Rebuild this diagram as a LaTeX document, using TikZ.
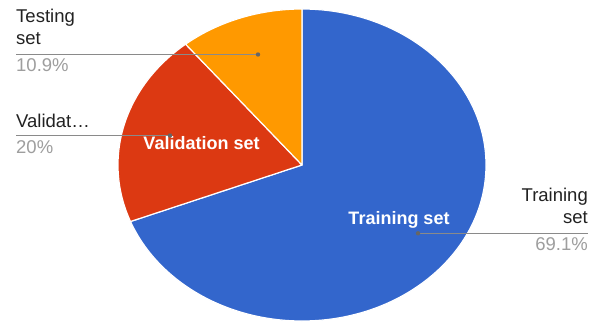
\documentclass[tikz,border=0pt]{standalone}
\usepackage{fontspec}
\setmainfont{Liberation Sans}
\definecolor{trainblue}{HTML}{3366CC}
\definecolor{valred}{HTML}{DC3912}
\definecolor{testorange}{HTML}{FF9900}
\definecolor{labeltext}{HTML}{222222}
\definecolor{pcttext}{HTML}{9E9E9E}
\definecolor{leader}{HTML}{8A8A8A}
\definecolor{leaderdot}{HTML}{666666}
\tikzset{
  slice/.style={draw=white, line width=1.2pt, line join=round},
  lbl/.style={inner sep=0pt, text=labeltext, font=\fontsize{18.5}{22}\selectfont},
  pct/.style={inner sep=0pt, text=pcttext, font=\fontsize{18.5}{22}\selectfont},
  inlbl/.style={inner sep=0pt, text=white, font=\fontsize{18}{22}\selectfont\bfseries},
  leaderline/.style={draw=leader, line width=1pt},
  leaderend/.style={fill=leaderdot},
}
\begin{document}
\begin{tikzpicture}[x=1pt, y=1pt]
  \useasboundingbox (0,0) rectangle (600,322);
  \fill[white] (0,0) rectangle (600,322);

  % pie: 69.1% / 20% / 10.9%, clockwise from the top
  \coordinate (c) at (302,157);
  \fill[trainblue, slice] (c) -- ++(90:184pt and 156pt)
    arc[start angle=90, end angle=-158.76, x radius=184pt, y radius=156pt] -- cycle;
  \fill[valred, slice] (c) -- ++(201.24:184pt and 156pt)
    arc[start angle=201.24, end angle=129.24, x radius=184pt, y radius=156pt] -- cycle;
  \fill[testorange, slice] (c) -- ++(129.24:184pt and 156pt)
    arc[start angle=129.24, end angle=90, x radius=184pt, y radius=156pt] -- cycle;

  % labels inside the slices
  \node[inlbl] (valin) at (201.5,179) {Validation set};
  \node[inlbl] (trainin) at (399,102) {Training set};

  % outside labels
  \node[lbl, anchor=base west] (testname) at (16,299) {Testing};
  \node[lbl, anchor=base west] (testname2) at (16,277) {set};
  \node[pct, anchor=base west] (testpct) at (16,250) {10.9\%};

  \node[lbl, anchor=base west] (valname) at (16,195) {Validat…};
  \node[pct, anchor=base west] (valpct) at (16,168) {20\%};

  \node[lbl, anchor=base east] (trainname) at (588,120.5) {Training};
  \node[lbl, anchor=base east] (trainname2) at (588,99) {set};
  \node[pct, anchor=base east] (trainpct) at (588,72) {69.1\%};

  % leader lines
  \coordinate (testdot) at (258,267.5);
  \coordinate (testend) at (16,267.5);
  \coordinate (valdot) at (170,186.5);
  \coordinate (valend) at (16,186.5);
  \coordinate (traindot) at (418,88.7);
  \coordinate (trainend) at (588,88.7);
  \draw[leaderline] (testend) -- (testdot);
  \draw[leaderline] (valend) -- (valdot);
  \draw[leaderline] (traindot) -- (trainend);
  \fill[leaderend] (testdot) circle (2.2pt);
  \fill[leaderend] (valdot) circle (2.2pt);
  \fill[leaderend] (traindot) circle (2.2pt);
\end{tikzpicture}
\end{document}
